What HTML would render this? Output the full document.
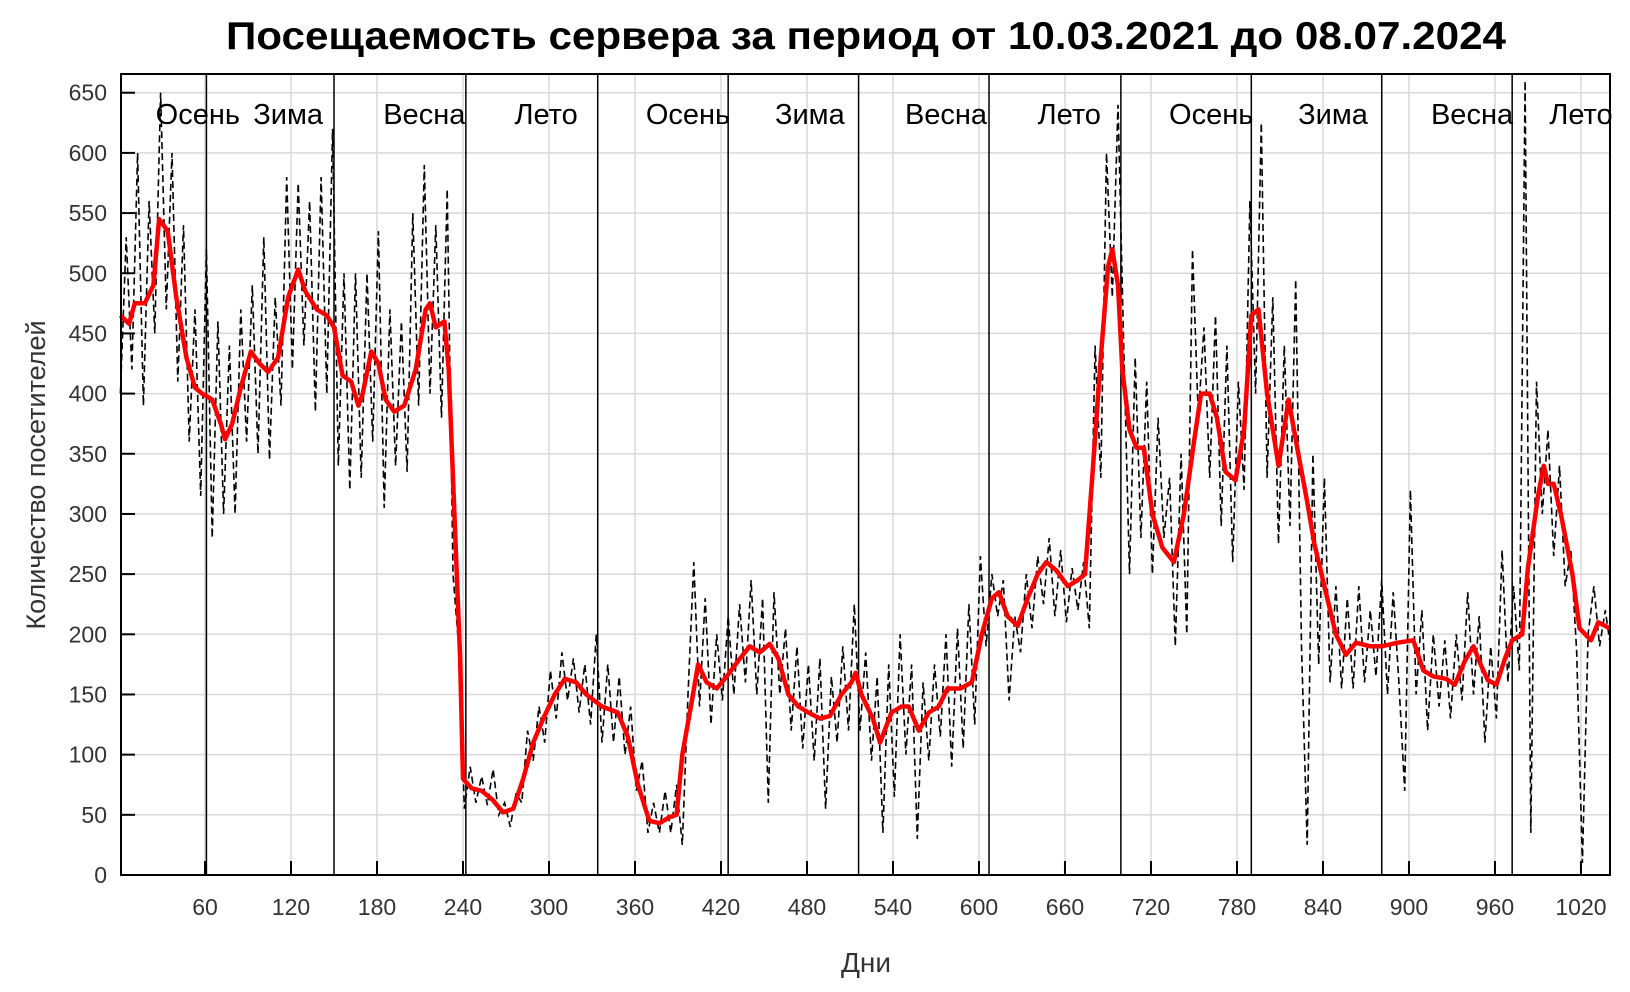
<!DOCTYPE html>
<html><head><meta charset="utf-8"><style>
html,body{margin:0;padding:0;background:#fff}
svg{display:block;font-family:"Liberation Sans",sans-serif}
</style></head><body>
<svg id="chart" width="1630" height="992" viewBox="0 0 1630 992">
<rect width="1630" height="992" fill="#fff"/>
<text x="866" y="49" text-anchor="middle" font-size="39" font-weight="bold" textLength="1280" lengthAdjust="spacingAndGlyphs">Посещаемость сервера за период от 10.03.2021 до 08.07.2024</text>
<g id="grid"></g>
<g id="seasons"></g>
<g id="series"></g>
<rect x="121" y="74" width="1489" height="801" fill="none" stroke="#000" stroke-width="2"/>
<g id="axes"></g>
<text x="866" y="972" text-anchor="middle" font-size="28" fill="#333">Дни</text>
<text transform="translate(45,475) rotate(-90)" text-anchor="middle" font-size="27" fill="#333">Количество посетителей</text>
</svg>
<script>
const xTicks=[60,120,180,240,300,360,420,480,540,600,660,720,780,840,900,960,1020];
const yTicks=[0,50,100,150,200,250,300,350,400,450,500,550,600,650];
const seasonBounds=[61,150,242,334,425,516,607,699,790,881,972];
const seasonNames=["Осень","Зима","Весна","Лето","Осень","Зима","Весна","Лето","Осень","Зима","Весна","Лето"];
const seasonLabelDays=[55,118,213,298,397,482,577,663,762,847,944,1020];
const smoothDays=[1,7,11,18,24,28,34,40,47,53,58,65,71,74,79,85,92,98,104,111,118,125,130,138,145,150,156,162,167,170,176,181,186,192,199,207,214,217,221,227,230,234,238,240,246,253,261,268,275,282,289,296,304,311,319,326,337,348,355,362,370,377,384,389,393,399,404,410,417,424,432,440,447,454,460,467,474,481,489,496,504,511,514,518,526,531,539,546,551,558,565,572,578,587,595,602,609,614,620,627,634,641,647,654,662,669,674,679,685,690,693,697,700,705,710,715,721,728,736,743,750,755,761,766,772,779,785,790,795,801,809,816,822,829,834,842,849,856,863,873,881,892,903,910,917,926,932,939,945,950,955,961,967,972,979,983,990,994,997,1001,1006,1014,1019,1027,1032,1040];
const smoothValues=[465,458,475,475,490,545,535,480,430,405,400,395,375,362,375,405,435,425,418,430,480,503,485,470,465,455,415,410,390,400,435,425,395,385,390,420,470,475,455,460,420,300,180,80,72,70,62,52,55,80,110,130,150,163,160,150,140,135,115,75,45,43,48,50,100,140,175,160,155,165,178,190,185,192,180,150,140,135,130,132,150,160,168,150,130,110,135,140,140,120,135,140,155,155,160,200,230,235,215,207,230,250,260,253,240,245,250,330,430,505,520,490,420,370,355,355,300,272,260,300,360,400,400,380,335,328,370,465,470,400,340,395,355,310,275,235,200,183,193,190,190,193,195,170,165,163,158,178,190,175,162,158,180,195,200,255,315,340,325,325,300,250,205,195,210,205];
const rawStartDay=1, rawStep=4;
const rawValues=[400,530,420,600,390,560,450,650,470,600,410,540,360,470,315,520,280,460,300,440,300,470,360,490,350,530,345,480,390,580,420,575,440,560,385,580,400,620,340,500,320,500,330,500,360,535,305,470,340,460,335,550,390,590,400,540,380,570,250,190,55,90,60,82,58,88,50,60,40,68,60,120,95,140,110,170,130,185,145,180,135,175,125,200,110,175,110,165,100,140,70,95,35,60,35,70,35,75,25,150,260,140,230,125,200,145,215,150,225,160,245,150,230,60,235,150,205,120,190,105,175,95,180,55,165,110,190,120,225,120,185,95,165,35,175,65,200,100,175,30,160,95,175,115,200,90,205,105,225,125,265,190,250,215,245,145,215,185,250,205,265,225,280,215,270,210,255,220,260,205,440,330,600,480,640,440,250,430,280,410,250,380,280,330,190,350,200,520,380,455,330,465,290,440,260,410,320,560,400,625,330,480,275,440,290,495,190,25,350,175,330,160,240,155,230,155,240,160,220,165,245,150,235,160,70,320,150,220,120,200,140,195,130,200,145,235,150,215,110,190,130,270,160,240,170,660,35,410,300,370,265,340,240,270,185,10,200,240,190,220,195];

const NS="http://www.w3.org/2000/svg";
const L=121,R=1610,T=74,B=875;
const xScale=d=>119+d*1.4333;
const yScale=v=>875-v*1.2035;
function mk(tag,attrs,parent){const e=document.createElementNS(NS,tag);for(const k in attrs)e.setAttribute(k,attrs[k]);parent.appendChild(e);return e;}
const grid=document.getElementById('grid'),axes=document.getElementById('axes'),seasons=document.getElementById('seasons'),series=document.getElementById('series');
yTicks.forEach(v=>{const y=yScale(v);
 const g=mk('line',{x1:L,x2:R,y1:y,y2:y,stroke:'#d9d9d9','stroke-width':1.5},grid);
 
 
 const t=mk('line',{x1:L,x2:L+14,y1:y,y2:y,stroke:'#000','stroke-width':2},axes);
 
 
 const lb=mk('text',{x:107,y:y+8,'text-anchor':'end','font-size':23,fill:'#333'},axes);lb.textContent=v;
 
 
});
xTicks.forEach(d=>{const x=xScale(d);
 const g=mk('line',{x1:x,x2:x,y1:T,y2:B,stroke:'#d9d9d9','stroke-width':1.5},grid);
 
 
 const t=mk('line',{x1:x,x2:x,y1:B,y2:B-14,stroke:'#000','stroke-width':2},axes);
 
 
 const lb=mk('text',{x:x,y:915,'text-anchor':'middle','font-size':23,fill:'#333'},axes);lb.textContent=d;
 
 
});
seasonBounds.forEach(d=>{const x=xScale(d);
 const l=mk('line',{x1:x,x2:x,y1:T,y2:B,stroke:'#000','stroke-width':1.5},seasons);
 
 
});
seasonNames.forEach((n,i)=>{
 const t=mk('text',{x:xScale(seasonLabelDays[i]),y:124,'text-anchor':'middle','font-size':29,fill:'#000'},seasons);t.textContent=n;
 
 
});
const rawPts=rawValues.map((v,i)=>xScale(Math.min(rawStartDay+i*rawStep,1040)).toFixed(1)+','+yScale(v).toFixed(1)).join(' ');
const raw=mk('polyline',{points:rawPts,fill:'none',stroke:'#000','stroke-width':1.6,'stroke-dasharray':'7,4'},series);


const smPts=smoothDays.map((d,i)=>xScale(d).toFixed(1)+','+yScale(smoothValues[i]).toFixed(1)).join(' ');
const sm=mk('polyline',{points:smPts,fill:'none',stroke:'#ff0000','stroke-width':4.5,'stroke-linejoin':'round'},series);


</script>
</body></html>
